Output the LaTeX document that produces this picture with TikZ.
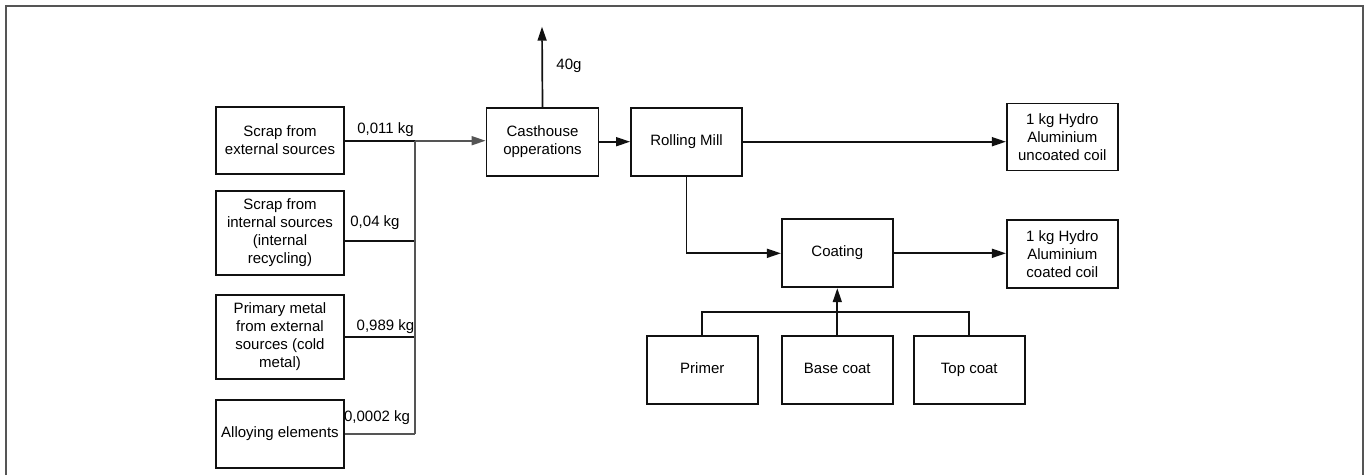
\documentclass[tikz,border=0pt]{standalone}
\usepackage{fontspec}
\setmainfont{Liberation Sans}
\usetikzlibrary{arrows.meta}
\definecolor{busgray}{HTML}{555555}
\definecolor{linek}{HTML}{111111}
\begin{document}
\begin{tikzpicture}[x=1pt,y=-1pt,
  every node/.style={font=\fontsize{15}{18}\selectfont},
  box/.style={draw=linek,line width=1.8pt,minimum width=#1,align=center,inner sep=0pt},
  box/.default=111pt,
  conn/.style={draw=linek,line width=1.7pt},
  busline/.style={draw=busgray,line width=1.7pt},
  tip/.style={-{Triangle[length=14pt,width=9pt]}},
  lbl/.style={inner sep=0pt}]
\useasboundingbox (0,0) rectangle (1367,475);
\draw[busgray,line width=2pt] (6,475) -- (6,6) -- (1363,6) -- (1363,475);

% source boxes
\node[box=128pt,minimum height=67pt] (ext) at (280,140.5) {Scrap from\\external sources};
\node[box=128pt,minimum height=84pt] (int) at (280,233) {Scrap from\\internal sources\\(internal\\recycling)};
\node[box=128pt,minimum height=84pt] (prim) at (280,337) {Primary metal\\from external\\sources (cold\\metal)};
\node[box=128pt,minimum height=68pt] (alloy) at (280,434) {\strut Alloying elements};

% process boxes
\node[box=112pt,minimum height=68pt] (cast) at (542.5,141.7) {Casthouse\\opperations};
\node[box,minimum height=68pt] (roll) at (686.5,141.7) {\strut Rolling Mill};
\node[box,minimum height=67pt] (unc) at (1062.3,137) {1 kg Hydro\\Aluminium\\uncoated coil};
\node[box,minimum height=68pt] (coat) at (837.3,253.3) {\strut Coating};
\node[box,minimum height=68pt] (coated) at (1062.3,254) {1 kg Hydro\\Aluminium\\coated coil};
\node[box,minimum height=68pt] (primer) at (702.3,370) {\strut Primer};
\node[box,minimum height=68pt] (base) at (837.3,370) {\strut Base coat};
\node[box,minimum height=68pt] (topc) at (969.3,370) {\strut Top coat};

% bus into casthouse
\coordinate (b1) at (415,140.7);
\coordinate (b2) at (415,240.7);
\coordinate (b3) at (415,336.7);
\coordinate (b4) at (415,434);
\coordinate (intout) at (344,240.7);
\draw[conn] (ext.east |- b1) -- (b1);
\draw[conn] (intout) -- (b2);
\draw[conn] (prim.east |- b3) -- (b3);
\draw[busline] (alloy.east |- b4) -- (b4);
\draw[busline] (b4) -- (b1);
\draw[busline,tip] (b1) -- (cast.west |- b1);

\node[lbl] (l1) at (385.5,130) {0,011 kg};
\node[lbl] (l2) at (375,222.7) {0,04 kg};
\node[lbl] (l3) at (385.5,326.7) {0,989 kg};
\node[lbl] (l4) at (377,418) {0,0002 kg};

% casthouse loss
\coordinate (loss) at (542,26.7);
\draw[conn,tip] (cast.north) -- (loss);
\node[lbl] (l5) at (569,65.7) {40g};

% main flow
\draw[conn,tip] (cast.east) -- (roll.west);
\draw[conn,tip] (roll.east) -- (roll.east -| unc.west);
\coordinate (rc) at (roll.south |- coat.west);
\draw[conn,tip] (roll.south) -- (rc) -- (coat.west);
\draw[conn,tip] (coat.east) -- (coat.east -| coated.west);

% coating inputs
\coordinate (cb) at (837.3,311.7);
\draw[conn] (primer.north) -- (primer.north |- cb) -- (topc.north |- cb) -- (topc.north);
\draw[conn,tip] (base.north) -- (coat.south);
\end{tikzpicture}
\end{document}
